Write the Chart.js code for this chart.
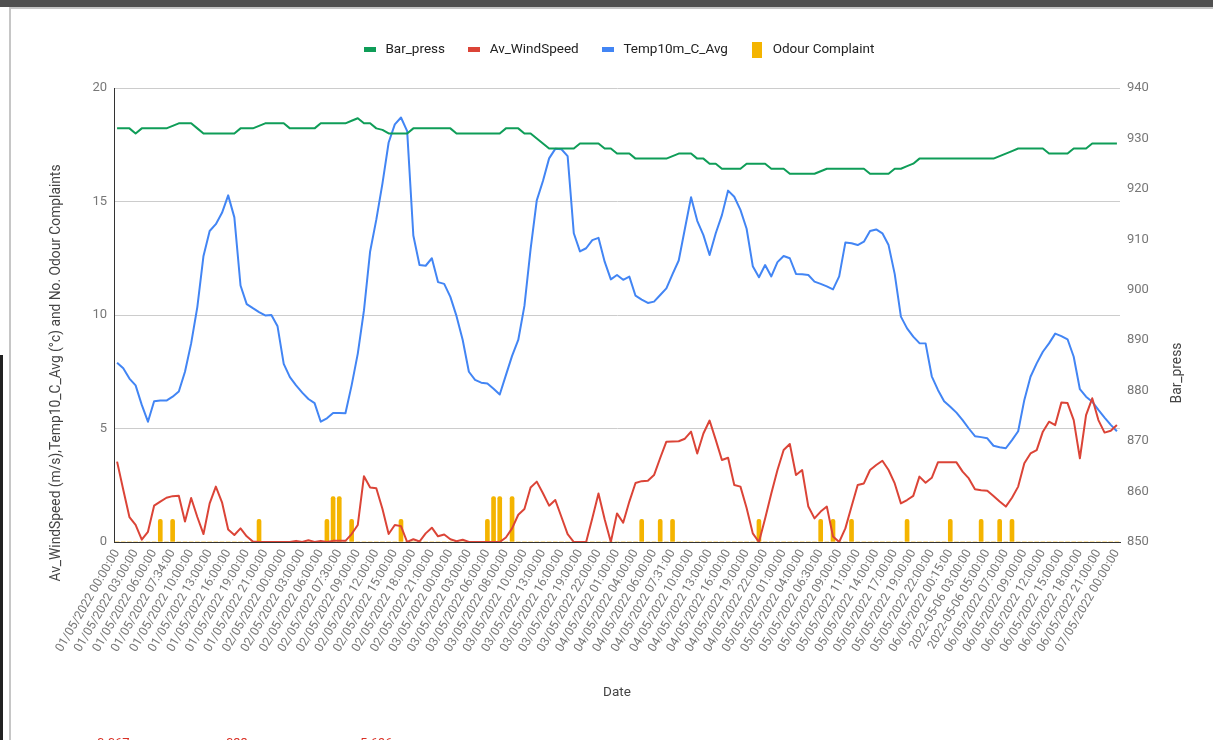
<!DOCTYPE html>
<html lang="en">
<head>
    <meta charset="UTF-8">
    <title>Odour complaints and weather, 1-7 May 2022</title>
    <script src="https://cdn.jsdelivr.net/npm/chart.js"></script>
    <style>
        html, body { margin: 0; padding: 0; background: #fff; overflow: hidden; }
        #wrap { position: absolute; left: 0; top: 0; width: 1213px; height: 740px; }
        .frame-top { position: absolute; left: 0; top: 0; width: 1213px; height: 7px; background: #505050; }
        .frame-h { position: absolute; left: 10px; top: 7px; width: 1203px; height: 2px; background: #c6c6c6; }
        .frame-v { position: absolute; left: 9px; top: 7px; width: 2px; height: 733px; background: #c6c6c6; }
        .frame-edge { position: absolute; left: 0; top: 355px; width: 3px; height: 385px; background: #222; }
        .cut { position: absolute; top: 736px; font: 13px Roboto, sans-serif; line-height: 13px; color: #d93025; }
    </style>
</head>
<body>

<div id="wrap"><canvas id="chart"></canvas></div>
<div class="frame-top"></div>
<div class="frame-h"></div>
<div class="frame-v"></div>
<div class="frame-edge"></div>
<div class="cut" style="left:97px">0.067</div>
<div class="cut" style="left:226px">033</div>
<div class="cut" style="left:360px">5.696</div>

<script>
// x labels shown on the axis (every third row of the sheet)
const tickLabels = [
    '01/05/2022 00:00:00', '01/05/2022 03:00:00', '01/05/2022 06:00:00', '01/05/2022 07:34:00', '01/05/2022 10:00:00',
    '01/05/2022 13:00:00', '01/05/2022 16:00:00', '01/05/2022 19:00:00', '01/05/2022 21:00:00',
    '02/05/2022 00:00:00', '02/05/2022 03:00:00', '02/05/2022 06:00:00', '02/05/2022 07:30:00', '02/05/2022 09:00:00',
    '02/05/2022 12:00:00', '02/05/2022 15:00:00', '02/05/2022 18:00:00', '02/05/2022 21:00:00',
    '03/05/2022 00:00:00', '03/05/2022 03:00:00', '03/05/2022 06:00:00', '03/05/2022 08:00:00', '03/05/2022 10:00:00',
    '03/05/2022 13:00:00', '03/05/2022 16:00:00', '03/05/2022 19:00:00', '03/05/2022 22:00:00',
    '04/05/2022 01:00:00', '04/05/2022 04:00:00', '04/05/2022 06:00:00', '04/05/2022 07:31:00', '04/05/2022 10:00:00',
    '04/05/2022 13:00:00', '04/05/2022 16:00:00', '04/05/2022 19:00:00', '04/05/2022 22:00:00',
    '05/05/2022 01:00:00', '05/05/2022 04:00:00', '05/05/2022 06:30:00', '05/05/2022 09:00:00', '05/05/2022 11:00:00',
    '05/05/2022 14:00:00', '05/05/2022 17:00:00', '05/05/2022 19:00:00', '05/05/2022 22:00:00',
    '06/05/2022 00:15:00', '2022-05-06 03:00:00', '2022-05-06 05:00:00', '06/05/2022 07:00:00', '06/05/2022 09:00:00',
    '06/05/2022 12:00:00', '06/05/2022 15:00:00', '06/05/2022 18:00:00', '06/05/2022 21:00:00',
    '07/05/2022 00:00:00'
];

// Bar_press (hPa), right axis
const barPress = [
    932, 932, 932, 931, 932, 932, 932, 932, 932, 932.5,
    933, 933, 933, 932, 931, 931, 931, 931, 931, 931,
    932, 932, 932, 932.5, 933, 933, 933, 933, 932, 932,
    932, 932, 932, 933, 933, 933, 933, 933, 933.5, 934,
    933, 933, 932, 931.7, 931, 931, 931, 931, 932, 932,
    932, 932, 932, 932, 932, 931, 931, 931, 931, 931,
    931, 931, 931, 932, 932, 932, 931, 931, 930, 929,
    928, 928, 928, 928, 928, 929, 929, 929, 929, 928,
    928, 927, 927, 927, 926, 926, 926, 926, 926, 926,
    926.5, 927, 927, 927, 926, 926, 925, 925, 924, 924,
    924, 924, 925, 925, 925, 925, 924, 924, 924, 923,
    923, 923, 923, 923, 923.5, 924, 924, 924, 924, 924,
    924, 924, 923, 923, 923, 923, 924, 924, 924.5, 925,
    926, 926, 926, 926, 926, 926, 926, 926, 926, 926,
    926, 926, 926, 926.5, 927, 927.5, 928, 928, 928, 928,
    928, 927, 927, 927, 927, 928, 928, 928, 929, 929,
    929, 929, 929
];

// Av_WindSpeed (m/s)
const windSpeed = [
    3.54, 2.3, 1.1, 0.75, 0.1, 0.45, 1.6, 1.78, 1.95, 2.02,
    2.04, 0.9, 1.94, 1.1, 0.35, 1.7, 2.44, 1.75, 0.55, 0.31,
    0.6, 0.25, 0.02, 0, 0, 0, 0, 0, 0, 0.05,
    0, 0.08, 0, 0.05, 0, 0.05, 0.05, 0.05, 0.35, 0.75,
    2.9, 2.4, 2.37, 1.45, 0.35, 0.75, 0.7, 0, 0.12, 0.02,
    0.38, 0.63, 0.25, 0.33, 0.12, 0.03, 0.1, 0, 0, 0,
    0, 0, 0, 0.2, 0.6, 1.2, 1.45, 2.4, 2.66, 2.15,
    1.6, 1.85, 1.1, 0.35, 0, 0, 0, 1.05, 2.14, 1.0,
    0, 1.26, 0.85, 1.78, 2.6, 2.68, 2.7, 2.95, 3.7, 4.42,
    4.43, 4.44, 4.55, 4.86, 3.9, 4.78, 5.35, 4.5, 3.61, 3.71,
    2.51, 2.44, 1.5, 0.38, 0, 1.04, 2.14, 3.17, 4.05, 4.32,
    2.95, 3.17, 1.56, 1.04, 1.34, 1.56, 0.24, 0, 0.6, 1.56,
    2.51, 2.58, 3.17, 3.39, 3.58, 3.17, 2.58, 1.7, 1.85, 2.03,
    2.88, 2.61, 2.83, 3.51, 3.51, 3.51, 3.51, 3.1, 2.8, 2.32,
    2.28, 2.26, 2.03, 1.78, 1.56, 1.95, 2.44, 3.47, 3.9, 4.05,
    4.86, 5.3, 5.15, 6.14, 6.12, 5.37, 3.69, 5.59, 6.33, 5.37,
    4.82, 4.9, 5.15
];

// Temp10m_C_Avg (°C)
const temp10m = [
    7.9, 7.65, 7.2, 6.9, 6.04, 5.3, 6.2, 6.23, 6.23, 6.4,
    6.63, 7.5, 8.75, 10.35, 12.6, 13.7, 14.0, 14.5, 15.27, 14.3,
    11.3, 10.48, 10.3, 10.13, 9.98, 10.0, 9.5, 7.85, 7.26, 6.9,
    6.58, 6.3, 6.12, 5.3, 5.45, 5.68, 5.68, 5.67, 6.9, 8.3,
    10.2, 12.8, 14.2, 15.8, 17.6, 18.4, 18.7, 18.1, 13.5, 12.2,
    12.17, 12.5, 11.45, 11.37, 10.8, 9.95, 8.9, 7.5, 7.14, 7.02,
    6.98, 6.75, 6.5, 7.35, 8.2, 8.9, 10.4, 12.9, 15.05, 15.9,
    16.9, 17.32, 17.3, 17.0, 13.6, 12.8, 12.94, 13.3, 13.4, 12.35,
    11.57, 11.76, 11.55, 11.69, 10.85, 10.68, 10.53, 10.59, 10.88, 11.17,
    11.8, 12.4, 13.8, 15.19, 14.15, 13.52, 12.64, 13.6, 14.4, 15.48,
    15.21, 14.63, 13.8, 12.15, 11.66, 12.2, 11.7, 12.33, 12.6, 12.5,
    11.81, 11.8, 11.76, 11.47, 11.37, 11.26, 11.13, 11.7, 13.19, 13.16,
    13.08, 13.23, 13.7, 13.77, 13.6, 13.08, 11.8, 9.93, 9.41, 9.05,
    8.76, 8.75, 7.3, 6.7, 6.2, 5.96, 5.7, 5.37, 5.0, 4.66,
    4.62, 4.57, 4.24, 4.17, 4.13, 4.49, 4.88, 6.26, 7.28, 7.87,
    8.38, 8.75, 9.18, 9.07, 8.93, 8.16, 6.73, 6.4, 6.18, 5.82,
    5.48, 5.16, 4.88
];

// Odour Complaint (count per row)
const odourComplaints = [
    0, 0, 0, 0, 0, 0, 0, 1, 0, 1,
    0, 0, 0, 0, 0, 0, 0, 0, 0, 0,
    0, 0, 0, 1, 0, 0, 0, 0, 0, 0,
    0, 0, 0, 0, 1, 2, 2, 0, 1, 0,
    0, 0, 0, 0, 0, 0, 1, 0, 0, 0,
    0, 0, 0, 0, 0, 0, 0, 0, 0, 0,
    1, 2, 2, 0, 2, 0, 0, 0, 0, 0,
    0, 0, 0, 0, 0, 0, 0, 0, 0, 0,
    0, 0, 0, 0, 0, 1, 0, 0, 1, 0,
    1, 0, 0, 0, 0, 0, 0, 0, 0, 0,
    0, 0, 0, 0, 1, 0, 0, 0, 0, 0,
    0, 0, 0, 0, 1, 0, 1, 0, 0, 1,
    0, 0, 0, 0, 0, 0, 0, 0, 1, 0,
    0, 0, 0, 0, 0, 1, 0, 0, 0, 0,
    1, 0, 0, 1, 0, 1, 0, 0, 0, 0,
    0, 0, 0, 0, 0, 0, 0, 0, 0, 0,
    0, 0, 0
];

const categories = windSpeed.map((_, i) => (i % 3 === 0 ? tickLabels[i / 3] : ''));

Chart.defaults.font.family = "Roboto, 'Noto Sans', sans-serif";
Chart.defaults.font.size = 13;

// little swatches for the legend, like the sheets chart
function swatch(color, w, h) {
    const c = document.createElement('canvas');
    c.width = w;
    c.height = h;
    const g = c.getContext('2d');
    g.fillStyle = color;
    g.fillRect(0, 0, w, h);
    return c;
}

const GREEN = '#0f9d58', RED = '#db4437', BLUE = '#4285f4', YELLOW = '#f4b400';
const markers = [swatch(GREEN, 12, 5), swatch(RED, 12, 5), swatch(BLUE, 12, 5), swatch(YELLOW, 10, 16)];

// push the plot down below the legend
const legendGap = {
    id: 'legendGap',
    beforeInit(chart) {
        const fit = chart.legend.fit;
        chart.legend.fit = function () {
            fit.bind(chart.legend)();
            this.height += 21.5;
        };
    }
};

// axis titles centred on the whole chart block, not just the plot
const sideTitles = {
    id: 'sideTitles',
    afterDraw(chart) {
        const { ctx, chartArea, scales } = chart;
        const midY = chartArea.top + 285;
        const font = "13.8px Roboto, 'Noto Sans', sans-serif";
        ctx.save();
        ctx.fillStyle = '#444';
        ctx.font = font;
        ctx.textAlign = 'center';
        ctx.textBaseline = 'middle';
        ctx.translate(scales.y.left + 12, midY);
        ctx.rotate(-Math.PI / 2);
        ctx.fillText('Av_WindSpeed (m/s),Temp10_C_Avg (°c) and No. Odour Complaints', 0, 0);
        ctx.restore();
        ctx.save();
        ctx.fillStyle = '#444';
        ctx.font = font;
        ctx.textAlign = 'center';
        ctx.textBaseline = 'middle';
        ctx.translate(scales.y1.right - 12, midY);
        ctx.rotate(-Math.PI / 2);
        ctx.fillText('Bar_press', 0, 0);
        ctx.restore();
    }
};

const data = {
    labels: categories,
    datasets: [
        { type: 'line', label: 'Bar_press', data: barPress, yAxisID: 'y1', order: 1,
          borderColor: GREEN, backgroundColor: GREEN, borderWidth: 2, pointRadius: 0, tension: 0, borderJoinStyle: 'round' },
        { type: 'line', label: 'Av_WindSpeed', data: windSpeed, yAxisID: 'y', order: 2,
          borderColor: RED, backgroundColor: RED, borderWidth: 2, pointRadius: 0, tension: 0, borderJoinStyle: 'round' },
        { type: 'line', label: 'Temp10m_C_Avg', data: temp10m, yAxisID: 'y', order: 3,
          borderColor: BLUE, backgroundColor: BLUE, borderWidth: 2, pointRadius: 0, tension: 0, borderJoinStyle: 'round' },
        { type: 'bar', label: 'Odour Complaint', data: odourComplaints, yAxisID: 'y', order: 4,
          backgroundColor: YELLOW, barThickness: 4, borderRadius: 2, borderSkipped: 'start' }
    ]
};

const config = {
    data,
    options: {
        responsive: true,
        maintainAspectRatio: false,
        animation: false,
        layout: { padding: { left: 45, right: 23, top: 23, bottom: 35 } },
        plugins: {
            legend: {
                position: 'top',
                labels: {
                    usePointStyle: true,
                    pointStyleWidth: 18,
                    padding: 20,
                    color: '#222',
                    font: { size: 13.5 },
                    generateLabels: chart => chart.data.datasets.map((ds, i) => ({
                        text: ds.label,
                        pointStyle: markers[i],
                        fillStyle: ds.backgroundColor,
                        strokeStyle: 'transparent',
                        lineWidth: 0,
                        hidden: false,
                        datasetIndex: i,
                        fontColor: '#222'
                    }))
                }
            },
            tooltip: { enabled: false }
        },
        scales: {
            x: {
                offset: true,
                grid: { display: false, drawTicks: false },
                border: { display: true, color: '#333' },
                ticks: { autoSkip: false, minRotation: 60, maxRotation: 60, padding: 5, color: '#777', font: { size: 12.3 } },
                title: { display: true, text: 'Date', color: '#444', font: { size: 13.5 }, padding: { top: 4, bottom: 4 } },
                afterFit: s => { s.height = 163; }
            },
            y: {
                position: 'left',
                min: 0,
                max: 20,
                ticks: { stepSize: 5, padding: 7, color: '#777', font: { size: 13 } },
                grid: { color: '#cccccc', drawTicks: false },
                border: { display: true, color: '#333' },
                afterFit: s => { s.width = 69; }
            },
            y1: {
                position: 'right',
                min: 850,
                max: 940,
                ticks: { stepSize: 10, padding: 7, color: '#777', font: { size: 13 } },
                grid: { display: false, drawTicks: false },
                border: { display: false },
                afterFit: s => { s.width = 70; }
            }
        }
    },
    plugins: [legendGap, sideTitles]
};

const myChart = new Chart(document.getElementById('chart'), config);
</script>

</body>
</html>
